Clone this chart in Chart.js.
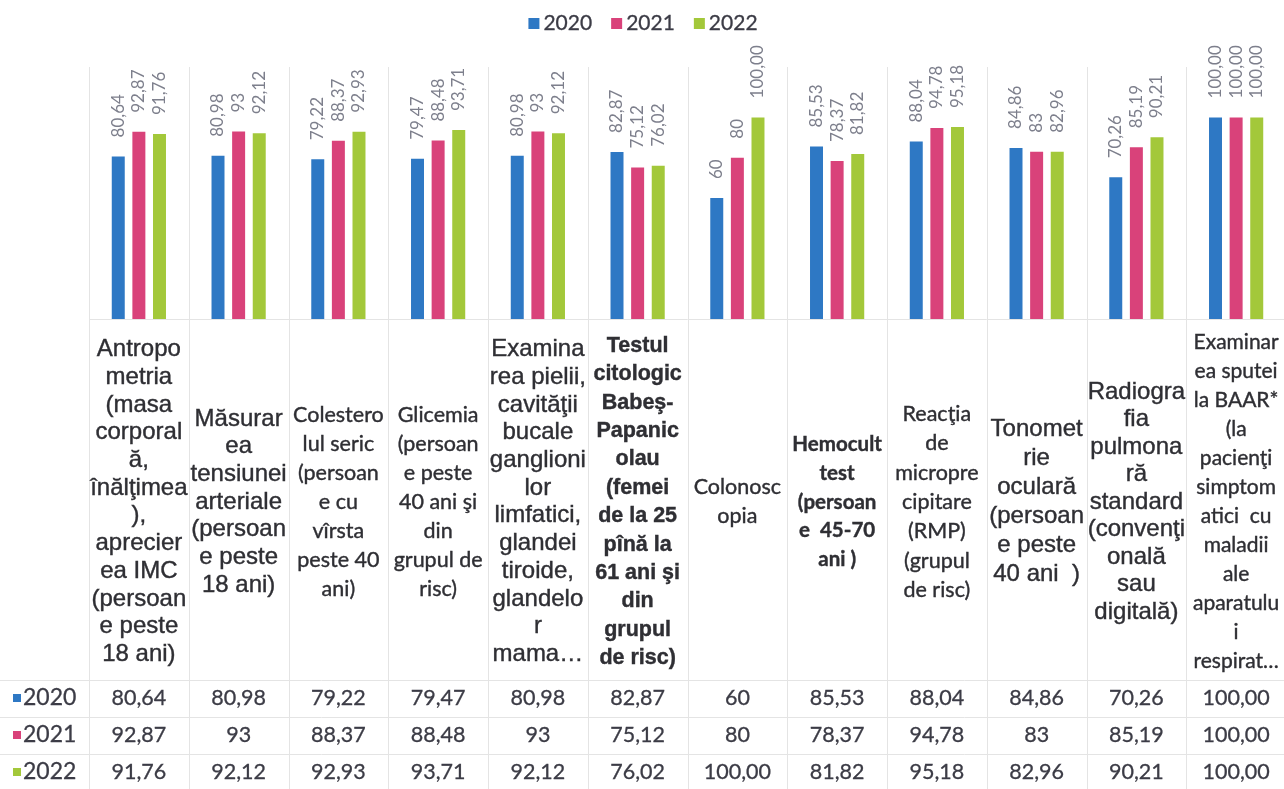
<!DOCTYPE html>
<html>
<head>
<meta charset="utf-8">
<script src="https://cdn.jsdelivr.net/npm/chart.js@4"></script>
<style>
  html, body { margin: 0; padding: 0; background: #fff; overflow: hidden; }
  #wrap { width: 1286px; height: 789px; position: relative; }
</style>
</head>
<body>
<div id="wrap"><canvas id="screening-chart"></canvas></div>
<script>
// data (values as printed, with decimal comma)
const years = ["2020", "2021", "2022"];
const categories = [
  ["Antropo", "metria", "(masa", "corporal", "ă,", "înălţimea", "),", "aprecier", "ea IMC", "(persoan", "e peste", "18 ani)"],
  ["Măsurar", "ea", "tensiunei", "arteriale", "(persoan", "e peste", "18 ani)"],
  ["Colestero", "lul seric", "(persoan", "e cu", "vîrsta", "peste 40", "ani)"],
  ["Glicemia", "(persoan", "e peste", "40 ani şi", "din", "grupul de", "risc)"],
  ["Examina", "rea pielii,", "cavităţii", "bucale", "ganglioni", "lor", "limfatici,", "glandei", "tiroide,", "glandelo", "r", "mama…"],
  ["Testul", "citologic", "Babeş-", "Papanic", "olau", "(femei", "de la 25", "pînă la", "61 ani şi", "din", "grupul", "de risc)"],
  ["Colonosc", "opia"],
  ["Hemocult", "test", "(persoan", "e  45-70", "ani )"],
  ["Reacţia", "de", "micropre", "cipitare", "(RMP)", "(grupul", "de risc)"],
  ["Tonomet", "rie", "oculară", "(persoan", "e peste", "40 ani  )"],
  ["Radiogra", "fia", "pulmona", "ră", "standard", "(convenţi", "onală", "sau", "digitală)"],
  ["Examinar", "ea sputei", "la BAAR*", "(la", "pacienţi", "simptom", "atici  cu", "maladii", "ale", "aparatulu", "i", "respirat…"]
];
const values2020 = ["80,64", "80,98", "79,22", "79,47", "80,98", "82,87", "60", "85,53", "88,04", "84,86", "70,26", "100,00"];
const values2021 = ["92,87", "93", "88,37", "88,48", "93", "75,12", "80", "78,37", "94,78", "83", "85,19", "100,00"];
const values2022 = ["91,76", "92,12", "92,93", "93,71", "92,12", "76,02", "100,00", "81,82", "95,18", "82,96", "90,21", "100,00"];

const seriesText = [values2020, values2021, values2022];
const colors = ["#2e78c4", "#d9427a", "#a3c83a"];
const toNum = s => parseFloat(s.replace(",", "."));

// header cell look: Arial-ish or Calibri-ish columns, as in the scan
const ARIAL = "'Liberation Sans', Arial, sans-serif";
const CALIBRI = "Lato, 'Open Sans', sans-serif";
const headerStyle = [
  { family: ARIAL, weight: "normal", size: 24, pitch: 27.7 },
  { family: ARIAL, weight: "normal", size: 24, pitch: 27.7 },
  { family: CALIBRI, weight: "normal", size: 21.5, pitch: 29 },
  { family: CALIBRI, weight: "normal", size: 21.5, pitch: 29 },
  { family: ARIAL, weight: "normal", size: 24, pitch: 27.7 },
  { family: ARIAL, weight: "bold", size: 21.5, pitch: 28.4 },
  { family: CALIBRI, weight: "normal", size: 21.5, pitch: 29 },
  { family: CALIBRI, weight: "bold", size: 20.5, pitch: 28.8 },
  { family: CALIBRI, weight: "normal", size: 21.5, pitch: 29.4 },
  { family: ARIAL, weight: "normal", size: 24, pitch: 29 },
  { family: ARIAL, weight: "normal", size: 24, pitch: 27.5 },
  { family: CALIBRI, weight: "normal", size: 21, pitch: 29 }
];

const headerMid = 502;
const rowY = [698, 735, 772];
const rowLines = [680, 717, 754];

// scanned text looks heavier than plain canvas text
function heavyText(ctx, s, x, y, w) {
  ctx.fillText(s, x, y);
  ctx.lineWidth = w;
  ctx.strokeText(s, x, y);
}

const tablePlugin = {
  id: "dataTable",
  beforeDraw(chart) {
    const ctx = chart.ctx;
    ctx.save();
    ctx.fillStyle = "#fff";
    ctx.fillRect(0, 0, chart.width, chart.height);
    ctx.restore();
  },
  beforeDatasetsDraw(chart) {
    const { ctx, chartArea } = chart;
    const x = chart.scales.x;
    const colW = (chartArea.right - chartArea.left) / categories.length;
    ctx.save();
    ctx.strokeStyle = "#e4e4e4";
    ctx.lineWidth = 1;
    ctx.beginPath();
    for (let i = 0; i <= categories.length; i++) {
      const px = Math.round(x.getPixelForValue(Math.min(i, categories.length - 1)) + (i === categories.length ? colW / 2 : -colW / 2)) + 0.5;
      ctx.moveTo(px, chartArea.top);
      ctx.lineTo(px, chart.height);
    }
    ctx.moveTo(chartArea.left, chartArea.bottom + 0.5);
    ctx.lineTo(chart.width, chartArea.bottom + 0.5);
    rowLines.forEach(y => {
      ctx.moveTo(0, y + 0.5);
      ctx.lineTo(chart.width, y + 0.5);
    });
    ctx.stroke();
    ctx.restore();
  },
  afterDatasetsDraw(chart) {
    const { ctx } = chart;
    const x = chart.scales.x;
    ctx.save();

    // rotated value labels above the bars
    ctx.font = "17px Lato, sans-serif";
    ctx.fillStyle = "#7d7f8c";
    ctx.textAlign = "left";
    ctx.textBaseline = "middle";
    chart.data.datasets.forEach((ds, i) => {
      chart.getDatasetMeta(i).data.forEach((bar, j) => {
        ctx.save();
        ctx.translate(bar.x, bar.y - 19);
        ctx.rotate(-Math.PI / 2);
        ctx.fillText(seriesText[i][j], 0, 0);
        ctx.restore();
      });
    });

    // category header cells
    ctx.fillStyle = "#2f2f34";
    ctx.strokeStyle = "#2f2f34";
    ctx.textAlign = "center";
    categories.forEach((lines, j) => {
      const st = headerStyle[j];
      ctx.font = `${st.weight} ${st.size}px ${st.family}`;
      const cx = x.getPixelForValue(j);
      const y0 = headerMid - (lines.length * st.pitch) / 2 + st.pitch / 2;
      lines.forEach((line, k) => heavyText(ctx, line, cx, y0 + k * st.pitch, 0.4));
    });

    // data table rows
    seriesText.forEach((vals, i) => {
      ctx.fillStyle = colors[i];
      ctx.fillRect(13, rowY[i] - 4, 8, 8);
      ctx.fillStyle = "#3c3c46";
      ctx.strokeStyle = "#3c3c46";
      ctx.font = "23px Lato, sans-serif";
      ctx.textAlign = "left";
      heavyText(ctx, years[i], 23, rowY[i], 0.3);
      ctx.font = "21.5px Lato, sans-serif";
      ctx.textAlign = "center";
      vals.forEach((v, j) => heavyText(ctx, v, x.getPixelForValue(j), rowY[i], 0.3));
    });

    // legend on top
    ctx.font = "21px Lato, sans-serif";
    ctx.textAlign = "left";
    const box = 11, gap = 4, itemGap = 19;
    const widths = years.map(y => ctx.measureText(y).width);
    const total = widths.reduce((a, w) => a + box + gap + w, 0) + itemGap * (years.length - 1);
    let lx = 643 - total / 2;
    years.forEach((y, i) => {
      ctx.fillStyle = colors[i];
      ctx.fillRect(lx, 18, box, box);
      ctx.fillStyle = "#3c3c46";
      ctx.strokeStyle = "#3c3c46";
      heavyText(ctx, y, lx + box + gap, 23, 0.3);
      lx += box + gap + widths[i] + itemGap;
    });

    ctx.restore();
  }
};

const screeningChart = new Chart("screening-chart", {
  type: "bar",
  data: {
    labels: categories.map(l => l.join(" ")),
    datasets: years.map((y, i) => ({
      label: y,
      data: seriesText[i].map(toNum),
      backgroundColor: colors[i],
      borderWidth: 0,
      categoryPercentage: 0.62,
      barPercentage: 0.63
    }))
  },
  options: {
    responsive: true,
    maintainAspectRatio: false,
    animation: false,
    layout: { padding: { left: 89, right: 0, top: 67, bottom: 470 } },
    plugins: {
      legend: { display: false },
      tooltip: { enabled: false }
    },
    scales: {
      x: { display: false },
      y: { display: false, min: 0, max: 125 }
    }
  },
  plugins: [tablePlugin]
});
</script>
</body>
</html>
